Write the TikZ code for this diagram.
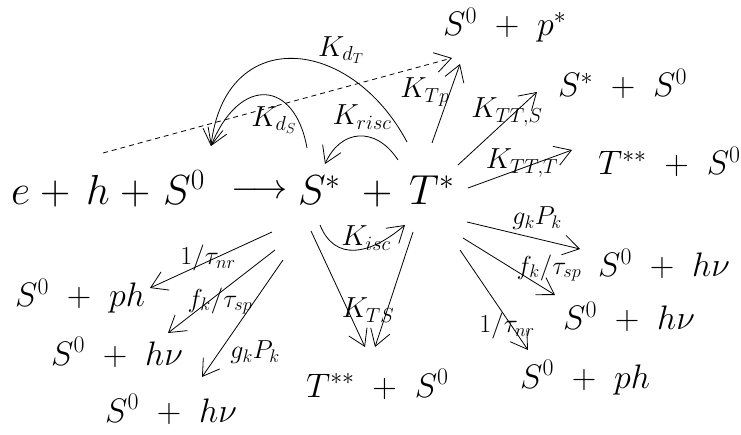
\RequirePackage{fix-cm}
\documentclass[tikz,border=0pt]{standalone}
\usetikzlibrary{arrows.meta}
\begin{document}
\begin{tikzpicture}[x=1pt,y=-1pt,
  big/.style={font=\fontsize{42}{50}\selectfont, inner sep=0pt, anchor=base west},
  prod/.style={font=\fontsize{34}{40}\selectfont, inner sep=0pt, anchor=base west},
  lab/.style={font=\fontsize{26}{30}\selectfont, inner sep=0pt},
  klab/.style={font=\fontsize{29}{34}\selectfont, inner sep=0pt},
  arr/.style={-{Straight Barb[length=16pt,width=20pt]}, line width=0.8pt},
  ]
\useasboundingbox (0,0) rectangle (741,435);
% main line
\node[big] (e) at (11,205) {$e$};
\node[big] (pa) at (40,205) {$+$};
\node[big] (h) at (86,205) {$h$};
\node[big] (pb) at (120,205) {$+$};
\node[big] (S0) at (163,205) {$S^0$};
\node[big, font=\fontsize{35}{42}\selectfont] (arrow) at (231,199) {$\longrightarrow$};
\node[big] (Ss) at (298,205) {$S^*$};
\node[big] (pc) at (362,205) {$+$};
\node[big] (Ts) at (409,205) {$T^*$};
% products
\node[prod] (P1) at (443,36) {$S^0\ +\ p^*$};
\node[prod] (P2) at (558,97) {$S^*\ +\ S^0$};
\node[prod] (P3) at (598,175) {$T^{**}\ +\ S^0$};
\node[prod] (P4) at (598,277) {$S^0\ +\ h\nu$};
\node[prod] (P5) at (563,330) {$S^0\ +\ h\nu$};
\node[prod] (P6) at (520,388) {$S^0\ +\ ph$};
\node[prod] (P7) at (306,397) {$T^{**}\ +\ S^0$};
\node[prod] (P8) at (15,307) {$S^0\ +\ ph$};
\node[prod] (P9) at (51,365) {$S^0\ +\ h\nu$};
\node[prod] (P10) at (105,422) {$S^0\ +\ h\nu$};
% labels
\node[klab] (LdT) at (341,50) {$K_{d_T}$};
\node[klab] (LdS) at (274,120) {$K_{d_S}$};
\node[klab] (Lrisc) at (362,117) {$K_{risc}$};
\node[klab] (LTp) at (425,92) {$K_{Tp}$};
\node[klab] (LTTS) at (507,112) {$K_{TT,S}$};
\node[klab] (LTTT) at (522,163) {$K_{TT,T}$};
\node[klab] (Lisc) at (366,238) {$K_{isc}$};
\node[klab] (LTS) at (368,310) {$K_{TS}$};
\node[lab] (LgR) at (537,218) {$g_kP_k$};
\node[lab] (LfR) at (549,268) {$f_k/\tau_{sp}$};
\node[lab] (LnR) at (507,326) {$1/\tau_{nr}$};
\node[lab] (LnL) at (208,258) {$1/\tau_{nr}$};
\node[lab] (LfL) at (220,301) {$f_k/\tau_{sp}$};
\node[lab] (LgL) at (255,352) {$g_kP_k$};
% endpoints
\coordinate (dashS) at (103,153);
\coordinate (dashE) at (452,58);
\coordinate (sink) at (211,146);
\coordinate (dTs) at (407,142);
\coordinate (dSs) at (307,148);
\coordinate (riS) at (398,160);
\coordinate (riE) at (325,164);
\coordinate (isS) at (320,225);
\coordinate (isE) at (405,225);
\coordinate (TpS) at (432,143);
\coordinate (TpE) at (460,64);
\coordinate (TSs) at (458,165);
\coordinate (TSe) at (537,92);
\coordinate (TTs) at (468,188);
\coordinate (TTe) at (572,150);
\coordinate (gRs) at (467,222);
\coordinate (gRe) at (580,249);
\coordinate (fRs) at (463,238);
\coordinate (fRe) at (555,295);
\coordinate (nRs) at (460,250);
\coordinate (nRe) at (528,350);
\coordinate (nLs) at (272,232);
\coordinate (nLe) at (150,288);
\coordinate (fLs) at (275,250);
\coordinate (fLe) at (168,333);
\coordinate (gLs) at (283,260);
\coordinate (gLe) at (202,377);
\coordinate (ts1s) at (311,231);
\coordinate (ts1e) at (365,347);
\coordinate (ts2s) at (413,232);
\coordinate (ts2e) at (375,347);
% connectors
\draw[arr, dash pattern=on 5pt off 4pt] (dashS) -- (dashE);
\draw[arr] (dTs) .. controls (350,35) and (225,25) .. (sink);
\draw[arr] (dSs) .. controls (295,80) and (240,75) .. (sink);
\draw[arr] (riS) .. controls (375,125) and (340,130) .. (riE);
\draw[arr] (isS) .. controls (335,262) and (370,255) .. (isE);
\draw[arr] (TpS) -- (TpE);
\draw[arr] (TSs) -- (TSe);
\draw[arr] (TTs) -- (TTe);
\draw[arr] (gRs) -- (gRe);
\draw[arr] (fRs) -- (fRe);
\draw[arr] (nRs) -- (nRe);
\draw[arr] (nLs) -- (nLe);
\draw[arr] (fLs) -- (fLe);
\draw[arr] (gLs) -- (gLe);
\draw[arr] (ts1s) -- (ts1e);
\draw[arr] (ts2s) -- (ts2e);
\end{tikzpicture}
\end{document}
